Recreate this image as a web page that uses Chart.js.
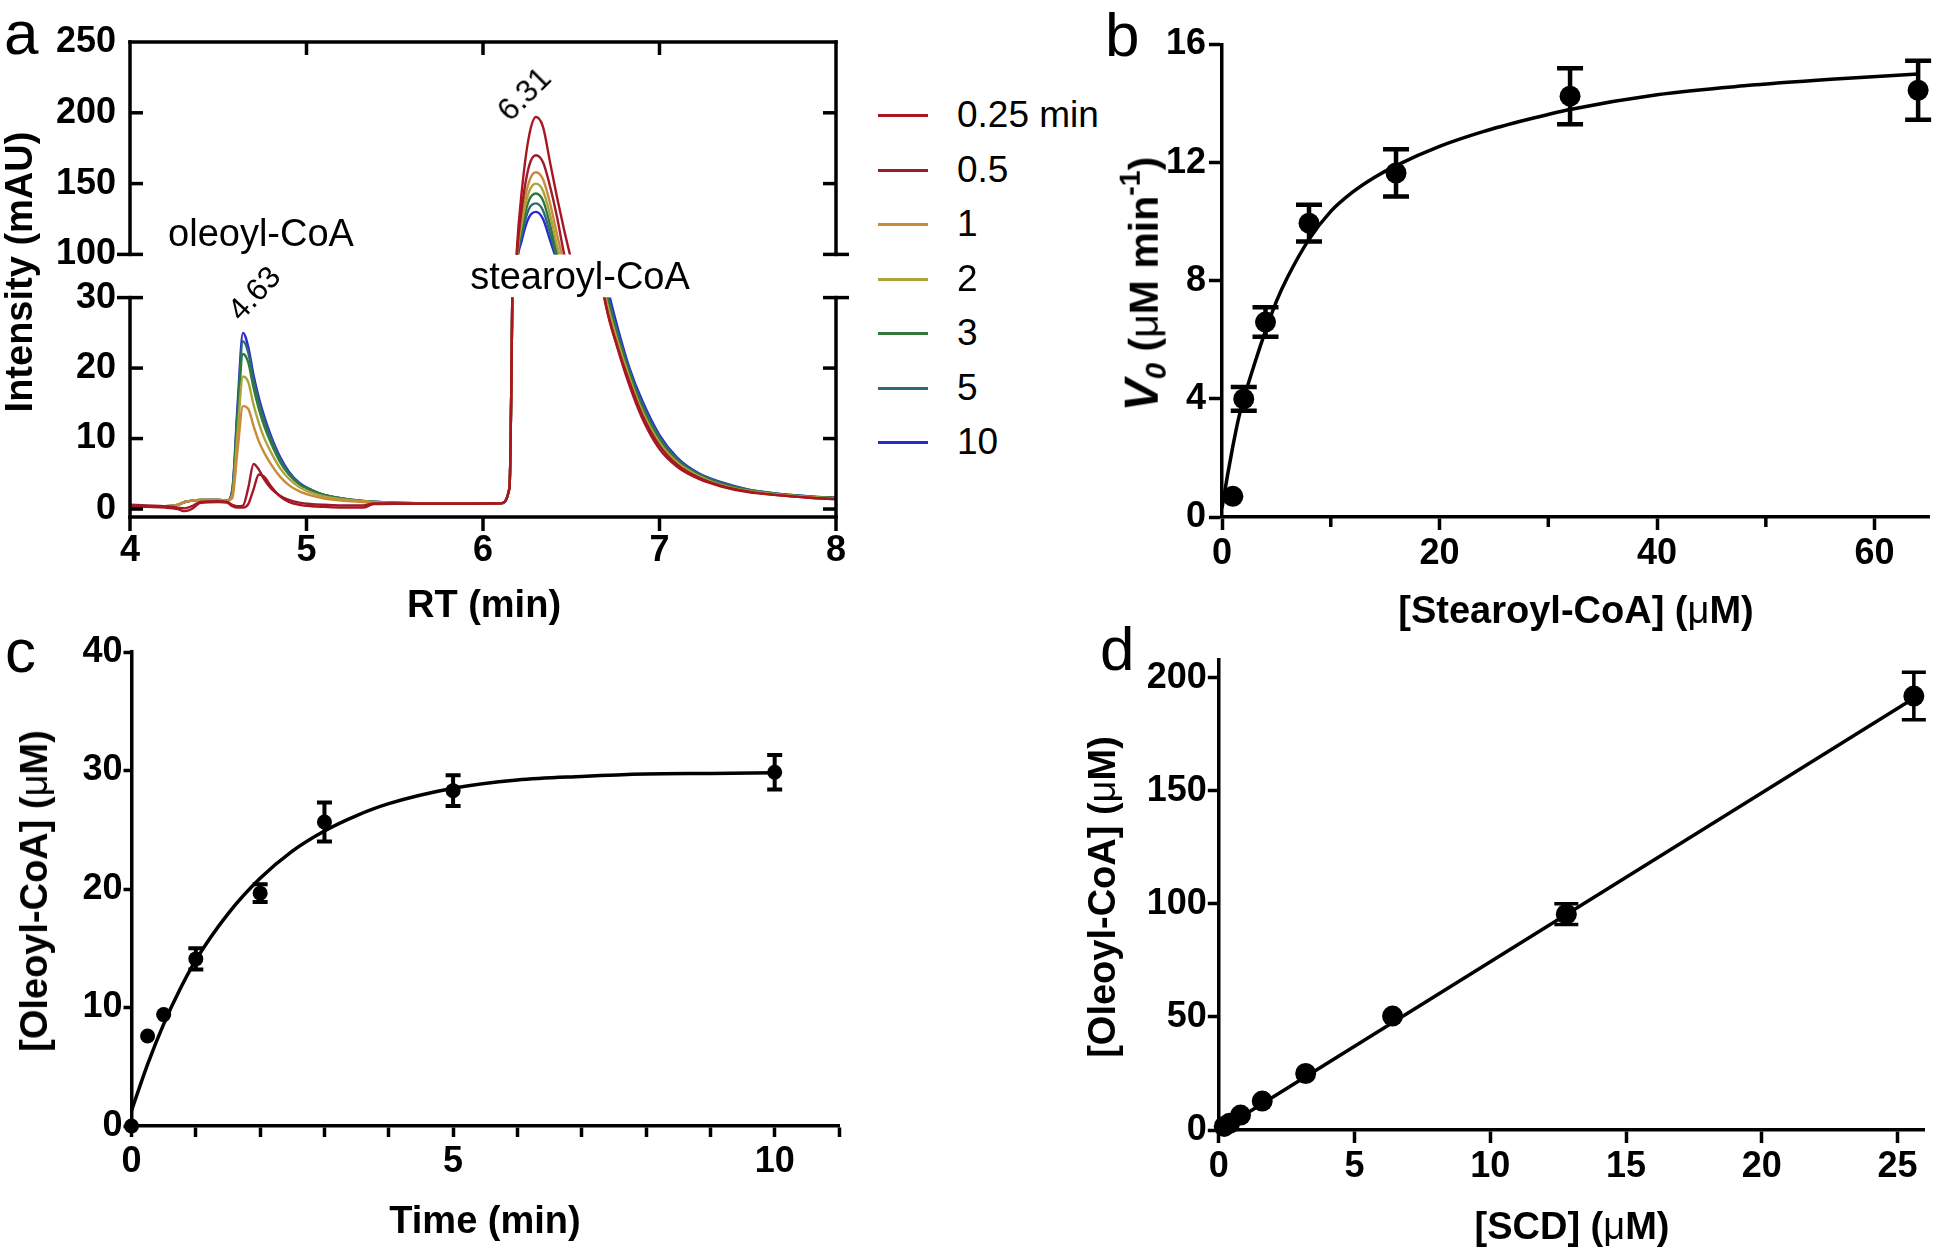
<!DOCTYPE html>
<html>
<head>
<meta charset="utf-8">
<script src="https://cdn.jsdelivr.net/npm/chart.js@4.4.1/dist/chart.umd.min.js"></script>
<style>
  html, body { margin: 0; padding: 0; background: #fff; }
  #fig { position: relative; width: 1940px; height: 1255px; overflow: hidden;
         font-family: "Liberation Sans", Arial, sans-serif; color: #000; }
  canvas { position: absolute; }
  .t { position: absolute; white-space: nowrap; transform: translate(-50%, -50%); line-height: 1; }
  .lbl { font-weight: bold; font-size: 38px; }
  .yl { transform: translate(-50%, -50%) rotate(-90deg); }
  .mu { font-weight: normal; }
  .note { font-size: 38px; }
  .peak { font-size: 31px; }
  .letter { position: absolute; font-size: 62px; line-height: 62px; }
  .sub { font-size: 0.72em; vertical-align: -0.28em; }
  .sup { font-size: 0.7em; vertical-align: 0.62em; }
  .leg { position: absolute; left: 878px; height: 40px; transform: translateY(-50%); }
  .leg i { position: absolute; left: 0; top: 19px; width: 50px; height: 3px; }
  .leg span { position: absolute; left: 79px; top: 0; font-size: 37px; line-height: 40px; white-space: nowrap; }
</style>
</head>
<body>
<div id="fig">
  <canvas id="aTop" width="860" height="290" style="left:0;top:0"></canvas>
  <canvas id="aBot" width="860" height="368" style="left:0;top:262px"></canvas>
  <canvas id="chartB" width="840" height="640" style="left:1100px;top:0"></canvas>
  <canvas id="chartC" width="900" height="635" style="left:0;top:620px"></canvas>
  <canvas id="chartD" width="860" height="635" style="left:1080px;top:620px"></canvas>

  <div class="letter" style="left:4px;top:2px">a</div>
  <div class="letter" style="left:1105px;top:4px">b</div>
  <div class="letter" style="left:5px;top:620px">c</div>
  <div class="letter" style="left:1100px;top:618px">d</div>

  <div class="t lbl yl" style="left:19px;top:272px">Intensity (mAU)</div>
  <div class="t lbl" style="left:484px;top:604px">RT (min)</div>
  <div class="t note" style="left:261px;top:233px">oleoyl-CoA</div>
  <div class="t note" style="left:580px;top:276px">stearoyl-CoA</div>
  <div class="t peak" style="left:254px;top:293px;transform:translate(-50%,-50%) rotate(-47deg)">4.63</div>
  <div class="t peak" style="left:524px;top:94px;transform:translate(-50%,-50%) rotate(-45deg)">6.31</div>
  <div id="legend"></div>

  <div class="t lbl yl" style="left:1143px;top:284px;font-size:41px"><i style="font-size:48px">V</i><i class="sub">0</i> (<span class="mu">μ</span>M min<span class="sup">-1</span>)</div>
  <div class="t lbl" style="left:1576px;top:610px">[Stearoyl-CoA] (<span class="mu">μ</span>M)</div>

  <div class="t lbl yl" style="left:34px;top:891px">[Oleoyl-CoA] (<span class="mu">μ</span>M)</div>
  <div class="t lbl" style="left:485px;top:1220px">Time (min)</div>

  <div class="t lbl yl" style="left:1102px;top:897px">[Oleoyl-CoA] (<span class="mu">μ</span>M)</div>
  <div class="t lbl" style="left:1572px;top:1226px">[SCD] (<span class="mu">μ</span>M)</div>
</div>

<script>
// ---------- panel a: chromatograms (RT in min, intensity in mAU)
const rt = [4.00, 4.10, 4.20, 4.27, 4.31, 4.35, 4.40, 4.50, 4.55, 4.58, 4.61, 4.64, 4.67, 4.70, 4.73, 4.76, 4.80, 4.85, 4.90, 4.96,
            5.03, 5.10, 5.20, 5.32, 5.38, 5.50, 5.70, 5.90,
            6.10, 6.15, 6.17, 6.19, 6.22, 6.26, 6.30, 6.34, 6.38, 6.42, 6.46, 6.50, 6.55, 6.60, 6.65, 6.70, 6.76, 6.83, 6.90,
            7.00, 7.10, 7.22, 7.35, 7.50, 7.70, 7.85, 8.00];

const int025 = [0.4, 0.3, 0.2, 0.0, -0.3, 0.0, 0.9, 1.0, 0.9, 0.4, 0.2, 0.2, 0.7, 2.8, 4.9, 4.6, 3.2, 1.8, 1.0, 0.6,
                0.4, 0.3, 0.2, 0.2, 0.7, 0.75, 0.75, 0.75,
                0.8, 3, 40, 100, 145, 183, 197, 190, 165, 140, 117, 96, 68, 48, 36, 28.5, 23, 17.5, 13,
                8.5, 6, 4.3, 3.2, 2.4, 1.9, 1.6, 1.4];
const int05 = [0.6, 0.5, 0.4, 0.2, 0.1, 0.4, 1.0, 1.1, 1.0, 0.6, 0.4, 0.5, 3.0, 6.4, 5.6, 4.2, 2.9, 1.9, 1.3, 0.9,
               0.7, 0.6, 0.5, 0.5, 0.8, 0.8, 0.75, 0.75,
               0.8, 3, 40, 96, 133, 162, 170, 165, 148, 126, 100, 80, 60, 45, 35, 28.5, 23.2, 18, 13.5,
               9, 6.3, 4.5, 3.3, 2.5, 1.9, 1.6, 1.4];
const int1 = [0.4, 0.4, 0.4, 0.6, 1.0, 1.2, 1.3, 1.3, 1.2, 1.6, 8.5, 14.6, 14.2, 11.8, 9.6, 8.0, 6.3, 4.6, 3.4, 2.5,
              1.9, 1.5, 1.2, 1.0, 0.9, 0.8, 0.75, 0.75,
              0.8, 3, 40, 95, 127, 151, 158, 153, 136, 114, 93, 75, 57, 44, 35, 29, 23.5, 18.2, 13.6,
              9.1, 6.4, 4.5, 3.3, 2.5, 1.95, 1.65, 1.45];
const int2 = [0.4, 0.4, 0.4, 0.6, 1.0, 1.2, 1.3, 1.3, 1.2, 2.0, 11, 18.8, 18, 14.8, 12.2, 10.1, 8.0, 5.8, 4.3, 3.1,
              2.3, 1.8, 1.4, 1.1, 1.0, 0.85, 0.8, 0.75,
              0.8, 3, 40, 94, 122, 144, 150, 145, 128, 106, 87, 72, 56, 44, 35.5, 29.5, 24, 18.6, 14,
              9.4, 6.6, 4.7, 3.4, 2.6, 2.0, 1.7, 1.5];
const int3 = [0.4, 0.4, 0.4, 0.6, 1.0, 1.2, 1.3, 1.3, 1.2, 2.5, 13, 22, 20.8, 17.2, 14.2, 11.8, 9.3, 6.7, 4.9, 3.5,
              2.6, 2.0, 1.5, 1.15, 1.0, 0.9, 0.8, 0.75,
              0.8, 3, 40, 93, 118, 138, 143, 138, 121, 100, 84, 70, 56, 45, 36.5, 30.5, 24.7, 19.2, 14.6,
              9.9, 6.9, 4.9, 3.6, 2.7, 2.05, 1.75, 1.55];
const int5 = [0.4, 0.4, 0.4, 0.6, 1.0, 1.2, 1.3, 1.3, 1.2, 2.7, 14, 23.8, 22.2, 18.3, 15.2, 12.7, 9.9, 7.1, 5.1, 3.6,
              2.7, 2.0, 1.5, 1.15, 1.05, 0.9, 0.8, 0.75,
              0.8, 3, 40, 92, 114, 132, 136, 131, 115, 97, 82, 69, 56, 45.5, 37.5, 31, 25.3, 19.6, 15,
              10.2, 7.1, 5.0, 3.7, 2.75, 2.1, 1.8, 1.6];
const int10 = [0.4, 0.4, 0.4, 0.6, 1.0, 1.2, 1.3, 1.3, 1.2, 2.8, 15, 25, 23, 19, 15.8, 13.2, 10.3, 7.4, 5.3, 3.7,
               2.7, 2.0, 1.5, 1.1, 1.05, 0.9, 0.8, 0.75,
               0.8, 3, 40, 90, 110, 126, 130, 125, 110, 95, 81, 69, 56.5, 46, 38, 32, 26, 20, 15.5,
               10.5, 7.3, 5.1, 3.8, 2.8, 2.1, 1.8, 1.6];

const chromLabels = ['0.25 min', '0.5', '1', '2', '3', '5', '10'];
const chromSeries = [int025, int05, int1, int2, int3, int5, int10];
const chromColors = ['#a8161f', '#9c1b2c', '#c98a3a', '#aba43a', '#2f7a3a', '#2d6a78', '#2a2ad0'];

const aUpperTicks = [100, 150, 200, 250];
const aLowerTicks = [0, 10, 20, 30];
const rtTicks = [4, 5, 6, 7, 8];

// ---------- panel b: initial rate vs substrate
const subConc = [1, 2, 4, 8, 16, 32, 64];
const rateV0 = [0.7, 4.0, 6.6, 9.95, 11.65, 14.25, 14.45];
const rateErr = [0, 0.4, 0.5, 0.62, 0.8, 0.95, 1.0];
const fitSubX = [0, 0.5, 1, 1.5, 2, 3, 4, 5, 6, 8, 10, 12, 14, 16, 20, 24, 28, 32, 40, 48, 56, 64];
const fitSubY = [0.3, 1.4, 2.4, 3.3, 4.0, 5.2, 6.3, 7.3, 8.1, 9.4, 10.35, 11.0, 11.5, 11.9, 12.55, 13.05, 13.45, 13.8, 14.3, 14.6, 14.82, 15.0];
const bXTicks = [0, 20, 40, 60];
const bXMinor = [10, 30, 50];
const bYTicks = [0, 4, 8, 12, 16];

// ---------- panel c: time course
const timeMin = [0, 0.25, 0.5, 1, 2, 3, 5, 10];
const oleoylC = [0, 7.6, 9.4, 14.1, 19.65, 25.65, 28.3, 29.85];
const oleoylCErr = [0, 0, 0, 0.9, 0.75, 1.65, 1.3, 1.45];
const fitTimeX = [0, 0.25, 0.5, 0.75, 1, 1.5, 2, 2.5, 3, 3.5, 4, 5, 6, 7, 8, 9, 10];
const fitTimeY = [1.3, 5.2, 8.6, 11.5, 14.0, 17.9, 20.9, 23.2, 24.9, 26.2, 27.2, 28.5, 29.2, 29.5, 29.7, 29.75, 29.8];
const cXTicks = [0, 1, 2, 3, 4, 5, 6, 7, 8, 9, 10, 11];
const cXLabels = [0, 5, 10];
const cYTicks = [0, 10, 20, 30, 40];

// ---------- panel d: enzyme titration
const scdConc = [0.2, 0.4, 0.8, 1.6, 3.2, 6.4, 12.8, 25.6];
const oleoylD = [1.6, 3.0, 6.6, 12.8, 25, 50.4, 95.5, 192];
const oleoylDErr = [0, 0, 0, 0, 0, 0, 4.6, 10.5];
const fitScdX = [0, 25.6];
const fitScdY = [-0.3, 191];
const dXTicks = [0, 5, 10, 15, 20, 25];
const dYTicks = [0, 50, 100, 150, 200];

// ---------- shared style
const FONT = '"Liberation Sans", Arial, sans-serif';
Chart.defaults.font.family = FONT;
Chart.defaults.color = '#000';

// condensed bold tick labels if the narrow face is installed
function hasFont(name) {
  const c = document.createElement('canvas').getContext('2d');
  c.font = 'bold 40px monospace';
  const w0 = c.measureText('0123456789 mmm').width;
  c.font = 'bold 40px "' + name + '", monospace';
  const w1 = c.measureText('0123456789 mmm').width;
  return Math.abs(w0 - w1) > 1;
}
const narrow = hasFont('Liberation Sans Narrow');
const tickFont = narrow
  ? { family: '"Liberation Sans Narrow", "Liberation Sans", sans-serif', size: 40, weight: 'bold' }
  : { family: FONT, size: 36, weight: 'bold' };

const pts = (xs, ys) => xs.map((x, i) => ({ x, y: ys[i] }));
const useTicks = arr => s => { s.ticks = arr.map(v => ({ value: v })); };

// axis with library tick marks (panels b, c, d)
function axis(extra, tl, pad) {
  return Object.assign({
    type: 'linear',
    grid: { display: true, drawOnChartArea: false, drawTicks: true, tickLength: tl, tickWidth: 3.5, tickColor: '#000' },
    border: { display: true, width: 3.5, color: '#000' },
    ticks: { font: tickFont, color: '#000', padding: pad, maxRotation: 0, autoSkip: false }
  }, extra);
}
// bare axis: labels only, marks drawn by the frame plugin (panel a)
function bareAxis(extra, pad) {
  return Object.assign({
    type: 'linear',
    grid: { display: false, drawTicks: false },
    border: { display: false },
    ticks: { font: tickFont, color: '#000', padding: pad, maxRotation: 0, autoSkip: false }
  }, extra);
}

// frame lines and extra tick marks, keyed by canvas id
const frameCfg = {
  aTop: {
    lines: ['left', 'right', 'top'],
    marks: [
      { axis: 'y', side: 'left', values: aUpperTicks.slice(1, 3), inn: 13, out: 0 },
      { axis: 'y', side: 'left', values: aUpperTicks.slice(0, 1), inn: 13, out: 13 },
      { axis: 'y', side: 'right', values: aUpperTicks.slice(1, 3), inn: 13, out: 0 },
      { axis: 'y', side: 'right', values: aUpperTicks.slice(0, 1), inn: 13, out: 13 },
      { axis: 'x', side: 'top', values: rtTicks.slice(1, 4), inn: 13, out: 0 }
    ]
  },
  aBot: {
    lines: ['left', 'right', 'bottom'],
    marks: [
      { axis: 'y', side: 'left', values: aLowerTicks.slice(0, 3), inn: 13, out: 0 },
      { axis: 'y', side: 'left', values: aLowerTicks.slice(3), inn: 13, out: 13 },
      { axis: 'y', side: 'right', values: aLowerTicks.slice(0, 3), inn: 13, out: 0 },
      { axis: 'y', side: 'right', values: aLowerTicks.slice(3), inn: 13, out: 13 },
      { axis: 'x', side: 'bottom', values: rtTicks, inn: 0, out: 14 }
    ]
  },
  chartB: {
    lines: [],
    marks: [{ axis: 'x', side: 'bottom', values: bXMinor, inn: 0, out: 10 }]
  }
};

const framePlugin = {
  id: 'frame',
  afterDraw(chart) {
    const cfg = frameCfg[chart.canvas.id];
    if (!cfg) return;
    const { ctx, chartArea: a, scales } = chart;
    ctx.save();
    ctx.strokeStyle = '#000';
    ctx.lineWidth = 3.5;
    ctx.lineCap = 'square';
    cfg.lines.forEach(side => {
      ctx.beginPath();
      if (side === 'left') { ctx.moveTo(a.left, a.top); ctx.lineTo(a.left, a.bottom); }
      if (side === 'right') { ctx.moveTo(a.right, a.top); ctx.lineTo(a.right, a.bottom); }
      if (side === 'top') { ctx.moveTo(a.left, a.top); ctx.lineTo(a.right, a.top); }
      if (side === 'bottom') { ctx.moveTo(a.left, a.bottom); ctx.lineTo(a.right, a.bottom); }
      ctx.stroke();
    });
    ctx.lineCap = 'butt';
    cfg.marks.forEach(m => {
      const s = scales[m.axis];
      m.values.forEach(v => {
        const p = s.getPixelForValue(v);
        ctx.beginPath();
        if (m.side === 'left') { ctx.moveTo(a.left - m.out, p); ctx.lineTo(a.left + m.inn, p); }
        if (m.side === 'right') { ctx.moveTo(a.right + m.out, p); ctx.lineTo(a.right - m.inn, p); }
        if (m.side === 'top') { ctx.moveTo(p, a.top - m.out); ctx.lineTo(p, a.top + m.inn); }
        if (m.side === 'bottom') { ctx.moveTo(p, a.bottom + m.out); ctx.lineTo(p, a.bottom - m.inn); }
        ctx.stroke();
      });
    });
    ctx.restore();
  }
};

// error bars stored on the dataset as errorBars / capWidth / barWidth
const errorBarPlugin = {
  id: 'errbars',
  afterDatasetsDraw(chart) {
    const { ctx, scales: { x, y } } = chart;
    chart.data.datasets.forEach(ds => {
      if (!ds.errorBars) return;
      ctx.save();
      ctx.strokeStyle = '#000';
      ctx.lineWidth = ds.barWidth;
      ds.data.forEach((p, i) => {
        const e = ds.errorBars[i];
        if (!e) return;
        const px = x.getPixelForValue(p.x);
        const top = y.getPixelForValue(p.y + e);
        const bot = y.getPixelForValue(p.y - e);
        const c = ds.capWidth / 2;
        ctx.beginPath();
        ctx.moveTo(px, top); ctx.lineTo(px, bot);
        ctx.moveTo(px - c, top); ctx.lineTo(px + c, top);
        ctx.moveTo(px - c, bot); ctx.lineTo(px + c, bot);
        ctx.stroke();
      });
      ctx.restore();
    });
  }
};

const baseOpts = {
  responsive: false,
  animation: false,
  devicePixelRatio: 1,
  plugins: { legend: { display: false }, tooltip: { enabled: false } }
};

// ---------- panel a
function chromDatasets() {
  return chromSeries.map((ys, i) => ({
    data: pts(rt, ys),
    borderColor: chromColors[i],
    borderWidth: 2.4,
    pointRadius: 0,
    cubicInterpolationMode: 'monotone',
    fill: false
  }));
}

new Chart(document.getElementById('aTop'), {
  type: 'line',
  data: { datasets: chromDatasets() },
  options: Object.assign({}, baseOpts, {
    layout: { padding: { top: 42, right: 24, bottom: 32, left: 0 } },
    scales: {
      x: { type: 'linear', min: 4, max: 8, display: false },
      y: bareAxis({ min: 100, max: 250, afterBuildTicks: useTicks(aUpperTicks), afterFit: s => { s.width = 130; } }, 14)
    }
  }),
  plugins: [framePlugin]
});

new Chart(document.getElementById('aBot'), {
  type: 'line',
  data: { datasets: chromDatasets() },
  options: Object.assign({}, baseOpts, {
    layout: { padding: { top: 33, right: 24, bottom: 0, left: 0 } },
    scales: {
      x: bareAxis({ min: 4, max: 8, afterBuildTicks: useTicks(rtTicks), afterFit: s => { s.height = 113; } }, 12),
      y: bareAxis({ min: -1.13, max: 30, afterBuildTicks: useTicks(aLowerTicks), afterFit: s => { s.width = 130; } }, 14)
    }
  }),
  plugins: [framePlugin]
});

// legend for panel a
const legendBox = document.getElementById('legend');
const legendTop = 115, legendStep = 54.5;
chromLabels.forEach((lab, i) => {
  const row = document.createElement('div');
  row.className = 'leg';
  row.style.top = (legendTop + i * legendStep) + 'px';
  row.innerHTML = '<i style="background:' + chromColors[i] + '"></i><span>' + lab + '</span>';
  legendBox.appendChild(row);
});

// ---------- panel b
new Chart(document.getElementById('chartB'), {
  type: 'scatter',
  data: {
    datasets: [
      { data: pts(subConc, rateV0), backgroundColor: '#000', borderWidth: 0, pointRadius: 10.5,
        errorBars: rateErr, capWidth: 26, barWidth: 4.5, clip: false },
      { type: 'line', data: pts(fitSubX, fitSubY), borderColor: '#000', borderWidth: 3.5, pointRadius: 0,
        cubicInterpolationMode: 'monotone', fill: false, clip: false }
    ]
  },
  options: Object.assign({}, baseOpts, {
    layout: { padding: { top: 44.5, right: 11, bottom: 0, left: 0 } },
    scales: {
      x: axis({ min: 0, max: 65, afterBuildTicks: useTicks(bXTicks), afterFit: s => { s.height = 123; } }, 13, 2),
      y: axis({ min: 0, max: 16, afterBuildTicks: useTicks(bYTicks), afterFit: s => { s.width = 122; } }, 13, 3)
    }
  }),
  plugins: [errorBarPlugin, framePlugin]
});

// ---------- panel c
const cAxisX = axis({ min: 0, max: 11, afterBuildTicks: useTicks(cXTicks), afterFit: s => { s.height = 129; } }, 11, 3);
cAxisX.ticks = Object.assign({}, cAxisX.ticks, { callback: v => (cXLabels.includes(v) ? String(v) : '') });
new Chart(document.getElementById('chartC'), {
  type: 'scatter',
  data: {
    datasets: [
      { data: pts(timeMin, oleoylC), backgroundColor: '#000', borderWidth: 0, pointRadius: 7.5,
        errorBars: oleoylCErr, capWidth: 15, barWidth: 4, clip: false },
      { type: 'line', data: pts(fitTimeX, fitTimeY), borderColor: '#000', borderWidth: 3.5, pointRadius: 0,
        cubicInterpolationMode: 'monotone', fill: false, clip: false }
    ]
  },
  options: Object.assign({}, baseOpts, {
    layout: { padding: { top: 32, right: 61, bottom: 0, left: 0 } },
    scales: {
      x: cAxisX,
      y: axis({ min: 0, max: 40, afterBuildTicks: useTicks(cYTicks), afterFit: s => { s.width = 131.5; } }, 8, 1)
    }
  }),
  plugins: [errorBarPlugin]
});

// ---------- panel d
new Chart(document.getElementById('chartD'), {
  type: 'scatter',
  data: {
    datasets: [
      { data: pts(scdConc, oleoylD), backgroundColor: '#000', borderWidth: 0, pointRadius: 10.5,
        errorBars: oleoylDErr, capWidth: 24, barWidth: 3.5, clip: false },
      { type: 'line', data: pts(fitScdX, fitScdY), borderColor: '#000', borderWidth: 3.5, pointRadius: 0,
        fill: false, clip: false }
    ]
  },
  options: Object.assign({}, baseOpts, {
    layout: { padding: { top: 39.9, right: 15.3, bottom: 0, left: 0 } },
    scales: {
      x: axis({ min: 0, max: 26, afterBuildTicks: useTicks(dXTicks), afterFit: s => { s.height = 125; } }, 13, 2),
      y: axis({ min: 0, max: 208, afterBuildTicks: useTicks(dYTicks), afterFit: s => { s.width = 138.8; } }, 11, 1)
    }
  }),
  plugins: [errorBarPlugin]
});
</script>
</body>
</html>
